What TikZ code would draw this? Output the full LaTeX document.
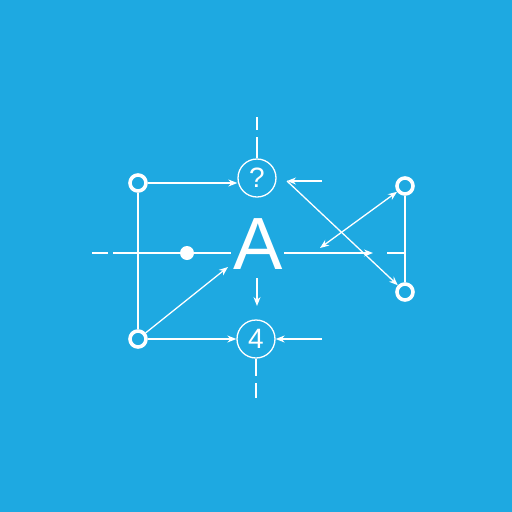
\documentclass[tikz,border=0pt]{standalone}
\usepackage{fontspec}
\setmainfont{Liberation Sans}
\usetikzlibrary{arrows.meta}
\definecolor{bgblue}{RGB}{30,169,225}
\tikzset{
  ln/.style={white, line width=1.3pt},
  arr/.style={ln, -{Stealth[length=9pt,width=7pt]}},
  darr/.style={ln, {Stealth[length=9pt,width=7pt]}-{Stealth[length=9pt,width=7pt]}},
  ring/.style={circle, draw=white, line width=3.6pt, minimum size=16pt, inner sep=0pt},
  badge/.style={circle, draw=white, line width=1.3pt, minimum size=38pt, inner sep=0pt, text=white, font=\fontsize{28}{28}\selectfont},
  dotn/.style={circle, fill=white, minimum size=14pt, inner sep=0pt}
}
\begin{document}
\begin{tikzpicture}[x=1pt,y=-1pt]
\fill[bgblue] (0,0) rectangle (512,512);
\useasboundingbox (0,0) rectangle (512,512);
% nodes
\node[ring] (tl) at (138,183) {};
\node[ring] (bl) at (138,339) {};
\node[ring] (tr) at (405,186) {};
\node[ring] (br) at (405,292) {};
\node[badge] (q) at (257,178) {?};
\node[badge] (four) at (256,339) {4};
\node[dotn] (dot) at (187,253) {};
\node[text=white, font=\fontsize{74}{74}\selectfont, inner sep=0pt] (A) at (258,244) {A};
% coordinates
\coordinate (qtop1) at (257,117);
\coordinate (qtop2) at (257,130);
\coordinate (qtop3) at (257,137);
\coordinate (qr) at (322,181);
\coordinate (qrt) at (287,181);
\coordinate (hl1) at (92,253);
\coordinate (hl2) at (108,253);
\coordinate (hl3) at (113,253);
\coordinate (hl4) at (231,253);
\coordinate (hr1) at (284,253);
\coordinate (hr2) at (373,253);
\coordinate (hr3) at (387,253);
\coordinate (hr4) at (405,253);
\coordinate (ablt) at (228,267);
\coordinate (adn1) at (257,278);
\coordinate (adn2) at (257,306);
\coordinate (fr) at (322,339);
\coordinate (fb1) at (256,376);
\coordinate (fb2) at (256,383);
\coordinate (fb3) at (256,398);
\coordinate (xd) at (320,248);
% lines
\draw[ln] (qtop1) -- (qtop2);
\draw[ln] (qtop3) -- (q.north);
\draw[arr] (tl) -- (tl -| q.west);
\draw[ln] (tl) -- (bl);
\draw[ln] (hl1) -- (hl2);
\draw[ln] (hl3) -- (dot) -- (hl4);
\draw[arr] (hr1) -- (hr2);
\draw[ln] (hr3) -- (hr4);
\draw[ln] (tr) -- (br);
\draw[arr] (qr) -- (qrt);
\draw[arr] (qrt) -- (br);
\draw[darr] (tr) -- (xd);
\draw[arr] (bl) -- (ablt);
\draw[arr] (adn1) -- (adn2);
\draw[arr] (bl) -- (four.west);
\draw[arr] (fr) -- (four.east);
\draw[ln] (four.south) -- (fb1);
\draw[ln] (fb2) -- (fb3);
\end{tikzpicture}
\end{document}
